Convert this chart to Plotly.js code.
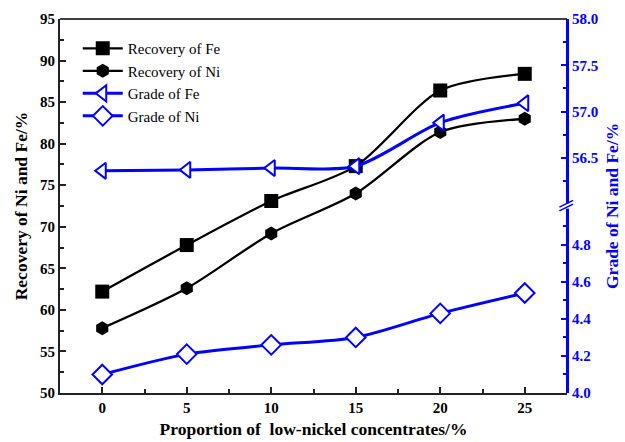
<!DOCTYPE html>
<html>
<head>
<meta charset="utf-8">
<script src="https://cdn.plot.ly/plotly-3.0.1.min.js"></script>
<style>html,body{margin:0;padding:0;background:#fff}#chart{width:625px;height:442px}</style>
</head>
<body>
<div id="chart"></div>
<script>
const proportion = [0, 5, 10, 15, 20, 25];
const recoveryFe = [62.2, 67.8, 73.1, 77.3, 86.4, 88.4];
const recoveryNi = [57.8, 62.6, 69.2, 74.0, 81.4, 83.0];
const gradeFe = [56.36, 56.37, 56.39, 56.41, 56.88, 57.09];
const gradeNi = [4.10, 4.21, 4.26, 4.30, 4.43, 4.54];
const xTicks = [0, 5, 10, 15, 20, 25];
const leftTicks = [50, 55, 60, 65, 70, 75, 80, 85, 90, 95];
const rightTopTicks = [56.5, 57.0, 57.5, 58.0];
const rightBottomTicks = [4.0, 4.2, 4.4, 4.6, 4.8];

const serif = 'Liberation Serif';
const blue = '#0000ff';
const dark = '#222222';

const traces = [
  {x: proportion, y: recoveryFe, name: 'Recovery of Fe', type: 'scatter', mode: 'lines+markers',
   line: {color: '#000', width: 2.3, shape: 'spline', smoothing: 0.8},
   marker: {symbol: 'square', size: 14, color: '#000'}, xaxis: 'x', yaxis: 'y'},
  {x: proportion, y: recoveryNi, name: 'Recovery of Ni', type: 'scatter', mode: 'lines+markers',
   line: {color: '#000', width: 2.3, shape: 'spline', smoothing: 0.8},
   marker: {symbol: 'hexagon', size: 14, color: '#000'}, xaxis: 'x', yaxis: 'y'},
  {x: proportion, y: gradeFe, name: 'Grade of Fe', type: 'scatter', mode: 'lines+markers',
   line: {color: blue, width: 3, shape: 'spline', smoothing: 0.8},
   marker: {symbol: 'triangle-left', size: 14, color: '#fff', line: {color: blue, width: 2}}, xaxis: 'x', yaxis: 'y2'},
  {x: proportion, y: gradeNi, name: 'Grade of Ni', type: 'scatter', mode: 'lines+markers',
   line: {color: blue, width: 3, shape: 'spline', smoothing: 0.8},
   marker: {symbol: 'diamond', size: 15, color: '#fff', line: {color: blue, width: 2}}, xaxis: 'x', yaxis: 'y3'}
];

const tickFont = {family: serif, size: 15, color: '#000', weight: 700};
const tickFontBlue = {family: serif, size: 15, color: blue, weight: 700};

const layout = {
  width: 625, height: 442,
  font: {family: serif},
  margin: {l: 60, r: 58, t: 19, b: 49},
  paper_bgcolor: '#fff', plot_bgcolor: 'rgba(0,0,0,0)',
  showlegend: true,
  legend: {x: 0.035, y: 0.965, xanchor: 'left', yanchor: 'top', bgcolor: 'rgba(0,0,0,0)',
           font: {family: serif, size: 15, color: '#000'}, tracegroupgap: 0, itemwidth: 40},
  xaxis: {range: [-2.5, 27.5], tickvals: xTicks, ticks: 'inside', ticklen: 6, tickwidth: 1.5, tickcolor: dark,
          showline: true, linecolor: dark, linewidth: 2, mirror: false, showgrid: false, zeroline: false,
          tickfont: tickFont,
          minor: {dtick: 2.5, tick0: 0, ticks: 'inside', ticklen: 4, tickcolor: dark, showgrid: false},
          title: {text: '<b>Proportion of  low-nickel concentrates/%</b>', font: {family: serif, size: 17.5, color: '#000'}, standoff: 8}},
  yaxis: {range: [50, 95], tickvals: leftTicks, ticks: 'inside', ticklen: 6, tickwidth: 1.5, tickcolor: dark,
          showline: true, linecolor: dark, linewidth: 2, showgrid: false, zeroline: false, tickfont: tickFont,
          minor: {dtick: 2.5, tick0: 50, ticks: 'inside', ticklen: 4, tickcolor: dark, showgrid: false},
          title: {text: '<b>Recovery of Ni and Fe/%</b>', font: {family: serif, size: 17.5, color: '#000'}, standoff: 8}},
  yaxis2: {domain: [0.505, 1], range: [56.0, 58.0], anchor: 'x', side: 'right', tickvals: rightTopTicks,
           tickformat: '.1f', ticks: 'inside', ticklen: 6, tickwidth: 1.5, tickcolor: blue,
           showline: true, linecolor: blue, linewidth: 2, showgrid: false, zeroline: false, tickfont: tickFontBlue,
           minor: {dtick: 0.25, tick0: 56, ticks: 'inside', ticklen: 4, tickcolor: blue, showgrid: false}},
  yaxis3: {domain: [0, 0.495], range: [4.0, 5.0], anchor: 'x', side: 'right', tickvals: rightBottomTicks,
           tickformat: '.1f', ticks: 'inside', ticklen: 6, tickwidth: 1.5, tickcolor: blue,
           showline: true, linecolor: blue, linewidth: 2, showgrid: false, zeroline: false, tickfont: tickFontBlue,
           minor: {dtick: 0.1, tick0: 4, ticks: 'inside', ticklen: 4, tickcolor: blue, showgrid: false}},
  shapes: [
    {type: 'line', xref: 'paper', yref: 'paper', x0: 1.0, x1: 1.0, y0: 0.0, y1: 1.0, line: {color: blue, width: 2}, layer: 'above'},
    {type: 'rect', xref: 'paper', yref: 'paper', x0: 0.99, x1: 1.01, y0: 0.493, y1: 0.507, fillcolor: '#fff', line: {width: 0}, layer: 'above'},
    {type: 'line', xref: 'paper', yref: 'paper', x0: 0.985, x1: 1.012, y0: 0.487, y1: 0.505, line: {color: blue, width: 1.5}, layer: 'above'},
    {type: 'line', xref: 'paper', yref: 'paper', x0: 0.985, x1: 1.012, y0: 0.497, y1: 0.515, line: {color: blue, width: 1.5}, layer: 'above'},
    {type: 'line', xref: 'paper', yref: 'paper', x0: 0, x1: 1, y0: 1, y1: 1, line: {color: '#000', width: 1.5}, layer: 'above'}
  ],
  annotations: [
    {text: '<b>Grade of Ni and Fe/%</b>', xref: 'paper', yref: 'paper', x: 1.0, y: 0.5, xshift: 45, textangle: -90,
     showarrow: false, font: {family: serif, size: 17.5, color: blue}, xanchor: 'center', yanchor: 'middle'}
  ]
};

Plotly.newPlot('chart', traces, layout, {displayModeBar: false, responsive: false});
</script>
</body>
</html>
